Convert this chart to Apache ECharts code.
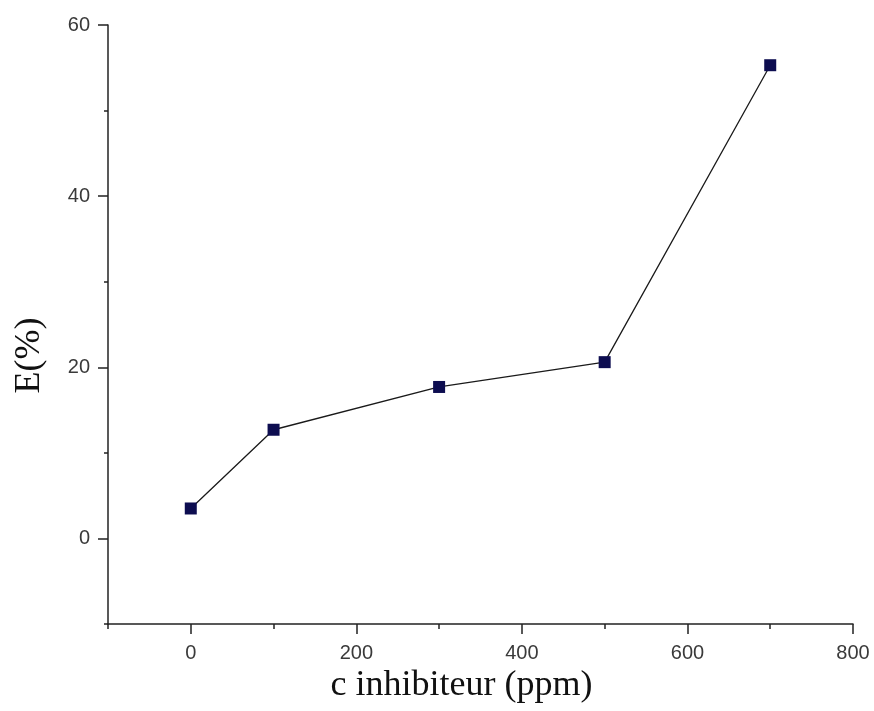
<!DOCTYPE html>
<html>
<head>
<meta charset="utf-8">
<script src="https://cdn.jsdelivr.net/npm/echarts@6/dist/echarts.min.js"></script>
<style>
  html, body { margin: 0; padding: 0; background: #fff; }
  #chart { width: 874px; height: 711px; }
</style>
</head>
<body>
<div id="chart"></div>
<script>
// Data
const concentrations = [0, 100, 300, 500, 700];
const efficiency = [3.5, 12.7, 17.7, 20.6, 55.3];

// Tick positions
const xMajorTicks = [0, 200, 400, 600, 800];
const xMinorTicks = [-100, 100, 300, 500, 700];
const yMajorTicks = [0, 20, 40, 60];
const yMinorTicks = [-10, 10, 30, 50];

const axisColor = "#222";
const labelColor = "#3a3a3a";

const myChart = echarts.init(document.getElementById("chart"));

function baseAxis(extra) {
  return Object.assign(
    {
      type: "value",
      splitLine: { show: false },
      axisLine: { show: true, onZero: false, lineStyle: { color: axisColor, width: 1.5 } },
    },
    extra,
  );
}

const option = {
  backgroundColor: "#fff",
  animation: false,
  grid: { left: 108, right: 21, top: 25, bottom: 87 },
  xAxis: [
    baseAxis({
      position: "bottom",
      min: -100,
      max: 800,
      name: "c inhibiteur (ppm)",
      nameLocation: "middle",
      nameGap: 42,
      nameTextStyle: {
        fontFamily: "Liberation Serif",
        fontSize: 36,
        color: "#111",
        padding: [0, 38, 0, 0],
      },
      axisTick: { show: true, length: 10, customValues: xMajorTicks, lineStyle: { color: axisColor, width: 1.5 } },
      axisLabel: {
        customValues: xMajorTicks,
        margin: 19,
        fontFamily: "Liberation Sans",
        fontSize: 20,
        color: labelColor,
      },
    }),
    baseAxis({
      position: "bottom",
      min: -100,
      max: 800,
      axisLine: { show: false, onZero: false },
      axisTick: { show: true, length: 5, customValues: xMinorTicks, lineStyle: { color: axisColor, width: 1.5 } },
      axisLabel: { show: false },
    }),
  ],
  yAxis: [
    baseAxis({
      position: "left",
      min: -10,
      max: 60,
      name: "E(%)",
      nameLocation: "middle",
      nameGap: 60,
      nameTextStyle: {
        fontFamily: "Liberation Serif",
        fontSize: 36,
        color: "#111",
        padding: [0, 62, 0, 0],
      },
      axisTick: { show: true, length: 10, customValues: yMajorTicks, lineStyle: { color: axisColor, width: 1.5 } },
      axisLabel: {
        customValues: yMajorTicks,
        margin: 18,
        fontFamily: "Liberation Sans",
        fontSize: 20,
        color: labelColor,
      },
    }),
    baseAxis({
      position: "left",
      min: -10,
      max: 60,
      axisLine: { show: false, onZero: false },
      axisTick: { show: true, length: 4, customValues: yMinorTicks, lineStyle: { color: axisColor, width: 1.5 } },
      axisLabel: { show: false },
    }),
  ],
  series: [
    {
      type: "line",
      xAxisIndex: 0,
      yAxisIndex: 0,
      data: concentrations.map((c, i) => [c, efficiency[i]]),
      symbol: "rect",
      symbolSize: 12,
      itemStyle: { color: "#0d0d50" },
      lineStyle: { color: "#1a1a1a", width: 1.3 },
    },
  ],
};

myChart.setOption(option);
</script>
</body>
</html>
